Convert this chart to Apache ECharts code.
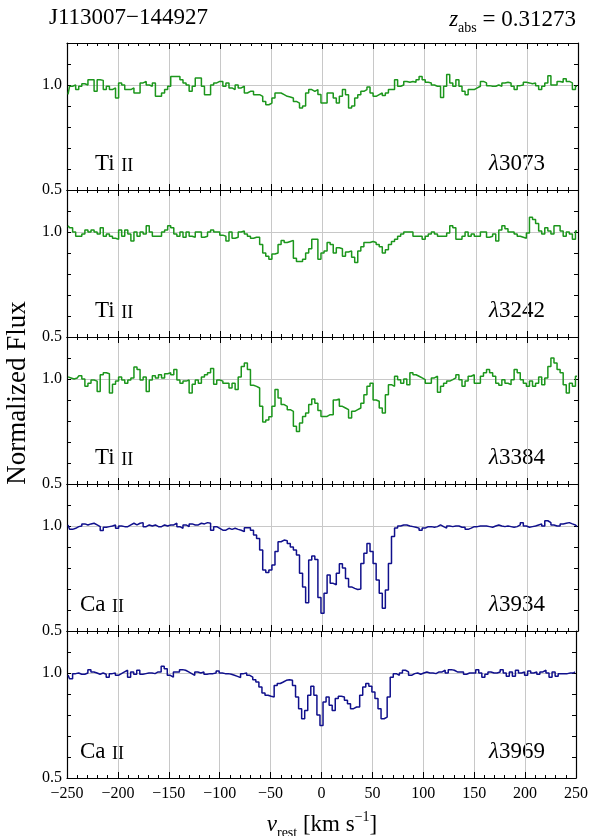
<!DOCTYPE html>
<html><head><meta charset="utf-8">
<script src="https://cdn.jsdelivr.net/npm/echarts@6/dist/echarts.min.js"></script>
<style>html,body{margin:0;padding:0;background:#fff}#c{width:591px;height:836px}</style>
</head><body><div id="c"></div>
<script>
// velocity pixel grid (km/s), bin centres
const VEL_START = -249, VEL_STEP = 3, NPIX = 167;
const velocity = Array.from({length: NPIX}, (_, i) => VEL_START + VEL_STEP * i);

const fluxTi3073 = [
0.955,0.994,1.0,0.978,0.994,1.006,1.0,1.025,1.025,0.97,
1.025,1.022,0.978,0.994,0.978,0.986,0.938,1.01,1.0,0.978,
0.978,0.986,0.962,0.962,1.01,1.017,1.0,0.994,1.01,0.946,
0.946,0.962,0.978,0.994,1.04,1.04,1.04,1.025,1.01,1.0,
0.97,0.994,1.033,1.033,0.994,0.954,0.954,1.0,1.01,1.017,
1.017,0.994,1.01,0.986,0.978,1.0,0.986,0.994,0.962,0.97,
0.97,0.954,0.954,0.946,0.922,0.906,0.914,0.938,0.962,0.962,
0.954,0.946,0.943,0.938,0.922,0.914,0.89,0.90,0.962,0.978,
0.97,0.978,0.955,0.914,0.914,0.962,0.962,0.938,0.914,0.946,
0.978,0.954,0.89,0.90,0.938,0.954,0.97,0.978,0.99,0.962,
0.946,0.954,0.962,0.95,0.962,0.978,0.978,1.025,0.994,1.0,
1.017,1.013,1.017,1.013,1.025,1.04,1.025,1.013,1.01,1.0,
0.994,0.994,0.94,0.994,1.05,1.01,0.994,1.025,0.994,0.97,
0.954,0.978,0.978,0.986,0.994,1.017,1.01,0.997,0.994,0.994,
1.0,0.994,1.01,1.013,1.01,0.994,0.978,0.997,1.0,1.013,
1.01,1.006,1.01,0.997,0.978,0.994,1.01,1.044,1.0,1.0,
1.017,1.013,1.03,1.017,1.01,0.978,0.994];

const fluxTi3242 = [
1.03,1.02,1.00,0.98,0.98,0.99,1.01,1.00,1.01,1.00,
0.99,1.02,0.98,0.99,0.98,0.97,0.965,1.01,0.98,1.01,
0.99,0.957,1.00,0.98,1.00,0.99,1.03,1.00,0.98,0.98,
0.98,1.00,1.01,1.03,1.02,0.99,0.98,1.00,0.975,1.00,
0.98,0.975,1.00,1.00,0.975,0.98,1.00,1.01,1.00,1.00,
0.985,0.98,0.957,1.00,0.97,0.975,1.00,1.005,0.99,0.98,
0.97,0.975,0.975,0.94,0.90,0.885,0.87,0.895,0.90,0.94,
0.96,0.95,0.955,0.96,0.875,0.86,0.86,0.87,0.90,0.92,
0.965,0.965,0.87,0.90,0.91,0.95,0.94,0.90,0.925,0.92,
0.885,0.905,0.91,0.88,0.855,0.91,0.93,0.95,0.95,0.955,
0.95,0.94,0.93,0.90,0.915,0.94,0.955,0.965,0.98,0.99,
1.00,1.00,1.00,0.98,0.98,0.98,0.965,0.98,0.99,1.00,
0.99,0.98,0.98,0.98,0.995,1.03,1.02,0.965,0.965,0.98,
1.00,0.98,0.99,0.98,0.98,1.00,1.00,0.975,0.98,0.99,
0.957,1.01,1.03,1.015,1.00,1.00,0.99,0.98,0.975,0.97,
0.995,1.07,1.06,1.04,1.005,0.99,1.02,1.005,0.99,1.03,
1.03,1.005,0.98,1.00,0.99,0.965,1.005];

const fluxTi3384 = [
1.01,1.005,1.00,1.005,1.015,1.00,0.965,0.98,0.995,0.99,
0.94,1.02,1.03,1.025,0.933,0.975,0.99,1.01,0.995,0.98,
0.995,1.005,1.057,1.045,0.995,1.01,0.94,0.995,1.015,1.005,
1.02,1.005,1.025,1.03,1.02,1.045,0.995,0.98,0.99,0.995,
0.933,0.975,0.995,0.98,1.01,1.02,1.03,1.05,0.975,0.995,
0.99,0.98,0.98,0.957,0.98,0.95,1.01,1.06,1.076,1.045,
0.97,0.965,0.957,0.87,0.795,0.805,0.82,0.87,0.95,0.91,
0.878,0.87,0.854,0.846,0.775,0.75,0.79,0.822,0.838,0.878,
0.905,0.885,0.85,0.822,0.822,0.83,0.83,0.90,0.905,0.87,
0.862,0.854,0.814,0.846,0.854,0.862,0.885,0.925,0.965,0.98,
0.90,0.894,0.862,0.838,0.925,0.973,0.965,1.013,0.997,0.98,
1.00,0.973,1.03,1.02,1.013,1.005,0.997,0.98,0.98,1.005,
1.013,0.937,0.965,0.98,0.99,0.997,1.005,1.02,0.997,0.965,
0.99,1.013,1.02,0.98,0.98,1.013,1.03,1.045,1.03,1.013,
0.98,0.97,0.997,0.98,0.973,0.997,1.045,1.03,0.997,0.98,
0.965,0.99,0.965,0.98,1.01,0.973,1.005,1.06,1.10,1.076,
1.045,1.03,0.973,0.933,0.98,0.965,1.013];

const fluxCa3934 = [
1.005,0.984,0.989,0.997,1.0,1.01,1.005,1.01,1.013,1.005,
0.997,0.978,0.994,0.997,1.0,1.005,0.989,1.0,0.997,0.997,
1.005,1.013,1.005,1.013,1.016,0.997,1.005,1.0,1.005,0.997,
0.997,1.005,1.0,1.005,1.005,1.013,0.997,0.989,1.005,0.997,
1.01,1.005,1.005,1.013,1.01,1.016,1.013,0.98,0.997,0.989,
0.98,0.98,0.989,0.984,0.989,0.984,0.98,0.973,0.992,0.992,
0.98,0.957,0.94,0.886,0.79,0.778,0.79,0.814,0.878,0.925,
0.933,0.93,0.917,0.90,0.886,0.862,0.775,0.71,0.635,0.838,
0.857,0.84,0.66,0.584,0.68,0.767,0.727,0.72,0.775,0.82,
0.80,0.75,0.71,0.703,0.698,0.70,0.822,0.87,0.917,0.878,
0.822,0.743,0.68,0.608,0.695,0.822,0.95,0.99,1.0,1.005,
1.005,1.0,0.997,0.994,0.99,0.98,0.99,0.997,0.997,0.994,
0.997,1.005,0.997,0.99,1.0,0.997,1.0,1.0,0.994,0.994,
0.984,0.99,0.997,0.997,1.0,1.0,1.0,0.997,0.994,1.0,
1.005,1.0,0.997,1.0,0.997,0.994,0.997,1.005,1.016,1.0,
0.994,0.997,1.0,1.005,1.01,1.0,1.025,1.016,1.005,1.0,
1.0,1.01,1.013,1.016,1.01,1.005,0.997];

const fluxCa3969 = [
0.99,0.973,0.997,1.0,0.994,0.994,1.0,1.016,1.005,1.0,
0.994,1.0,0.994,0.98,0.997,1.0,0.989,0.997,1.005,1.013,
0.98,1.005,0.994,1.013,0.994,0.997,1.0,1.0,0.997,1.005,
1.005,1.032,1.02,0.989,0.98,1.005,1.005,1.016,1.013,1.005,
0.997,0.989,1.005,1.0,1.005,0.994,0.997,0.997,1.0,1.01,
1.0,0.997,0.997,0.994,0.989,0.984,0.978,0.997,1.0,0.989,
0.98,0.968,0.957,0.933,0.905,0.894,0.889,0.886,0.94,0.95,
0.957,0.965,0.968,0.965,0.94,0.886,0.83,0.782,0.822,0.894,
0.937,0.894,0.80,0.75,0.862,0.886,0.846,0.822,0.878,0.889,
0.886,0.87,0.854,0.83,0.838,0.838,0.894,0.933,0.95,0.937,
0.91,0.878,0.83,0.782,0.79,0.886,0.98,0.997,0.989,1.0,
1.013,1.005,0.989,0.997,1.0,0.994,1.0,1.005,1.0,1.0,
0.997,1.005,1.005,1.013,1.0,1.016,1.013,1.005,1.005,1.005,
0.994,1.0,1.0,1.0,1.016,1.0,0.98,0.994,1.005,1.0,
1.0,1.005,1.016,1.0,0.984,1.005,0.984,1.013,1.0,1.005,
0.989,1.01,1.0,1.005,0.994,1.005,1.013,1.0,0.98,1.005,
0.984,0.997,0.997,0.997,1.0,1.0,1.005];

const panelFlux = [fluxTi3073, fluxTi3242, fluxTi3384, fluxCa3934, fluxCa3969];
const panelElement = ['Ti', 'Ti', 'Ti', 'Ca', 'Ca'];
const panelStage = ['II', 'II', 'II', 'II', 'II'];
const panelWave = ['3073', '3242', '3384', '3934', '3969'];
const panelColor = ['#1c961c', '#1c961c', '#1c961c', '#10108c', '#10108c'];
const objectName = 'J113007\u2212144927';
const zAbs = '0.31273';
const yLabelValues = [0.5, 1.0];

const FONT = '"Liberation Serif", "DejaVu Serif", serif';
const L = 67, W = 511, T0 = 43, H = 147;
const ionLabelX = [95, 95, 95, 80, 80];

const grids = [], xAxes = [], yAxes = [], series = [], graphics = [];
for (let i = 0; i < 5; i++) {
  grids.push({left: L, width: W, top: T0 + H * i, height: H});
  const last = i === 4;
  const xBase = {
    type: 'value', gridIndex: i, min: -250, max: 250, interval: 50,
    axisLine: {show: true, onZero: false, lineStyle: {color: '#000', width: 1.2}},
    axisTick: {show: true, inside: true, length: 6, lineStyle: {color: '#000', width: 1}},
    minorTick: {show: true, splitNumber: 5, length: 3, lineStyle: {color: '#000', width: 1}}
  };
  xAxes.push(Object.assign({}, xBase, {
    position: 'bottom',
    splitLine: {show: true, lineStyle: {color: '#c8c8c8', width: 1}},
    axisLabel: {show: last, margin: 8, color: '#000', fontFamily: FONT, fontSize: 16,
      formatter: v => String(v).replace('-', '\u2212')}
  }));
  xAxes.push(Object.assign({}, xBase, {
    position: 'top', splitLine: {show: false}, axisLabel: {show: false}
  }));
  const yBase = {
    type: 'value', gridIndex: i, min: 0.5, max: 1.2, interval: 0.1,
    axisLine: {show: true, onZero: false, lineStyle: {color: '#000', width: 1.2}},
    axisTick: {show: true, inside: true, length: 4, lineStyle: {color: '#000', width: 1}},
    splitLine: {show: false}
  };
  yAxes.push(Object.assign({}, yBase, {
    position: 'left',
    axisLabel: {show: true, margin: 5, color: '#000', fontFamily: FONT, fontSize: 16,
      showMaxLabel: false,
      formatter: v => {
        for (const t of yLabelValues) if (Math.abs(v - t) < 1e-6) return t.toFixed(1);
        return '';
      }}
  }));
  yAxes.push(Object.assign({}, yBase, {position: 'right', axisLabel: {show: false}}));
  yAxes.push({
    type: 'value', gridIndex: i, min: 0.5, max: 1.2, interval: 0.5, position: 'left',
    axisLine: {show: false}, axisTick: {show: false}, axisLabel: {show: false},
    splitLine: {show: true, lineStyle: {color: '#c8c8c8', width: 1}}
  });
  series.push({
    type: 'line', xAxisIndex: 2 * i, yAxisIndex: 3 * i,
    data: velocity.map((v, k) => [v, panelFlux[i][k]]),
    step: 'middle', showSymbol: false, symbol: 'none', clip: true,
    lineStyle: {color: panelColor[i], width: 1.5}, animation: false
  });
  const ly = T0 + H * i + 121;
  graphics.push({
    type: 'text', x: ionLabelX[i], y: ly,
    style: {
      text: '{e|' + panelElement[i] + '}{s| ' + panelStage[i] + '}',
      verticalAlign: 'middle', textVerticalAlign: 'middle', fill: '#000',
      rich: {
        e: {fontFamily: FONT, fontSize: 23, fill: '#000', lineHeight: 26},
        s: {fontFamily: FONT, fontSize: 18, fill: '#000', verticalAlign: 'bottom', lineHeight: 26, padding: [0, 0, 2, 2]}
      }
    }
  });
  graphics.push({
    type: 'text', x: 545, y: ly,
    style: {
      text: '{l|\u03bb}{n|' + panelWave[i] + '}',
      align: 'right', textAlign: 'right', verticalAlign: 'middle', textVerticalAlign: 'middle', fill: '#000',
      rich: {
        l: {fontFamily: FONT, fontSize: 23, fontStyle: 'italic', fill: '#000'},
        n: {fontFamily: FONT, fontSize: 23, fill: '#000'}
      }
    }
  });
}

graphics.push({
  type: 'text', x: 49, y: 18,
  style: {text: objectName, font: '23px ' + FONT, fill: '#000', verticalAlign: 'middle', textVerticalAlign: 'middle'}
});
graphics.push({
  type: 'text', x: 576, y: 20,
  style: {
    text: '{z|z}{s|abs}{n| = ' + zAbs + '}',
    align: 'right', textAlign: 'right', verticalAlign: 'middle', textVerticalAlign: 'middle', fill: '#000',
    rich: {
      z: {fontFamily: FONT, fontSize: 23, fontStyle: 'italic', fill: '#000', lineHeight: 30},
      s: {fontFamily: FONT, fontSize: 14, fill: '#000', verticalAlign: 'bottom', lineHeight: 30},
      n: {fontFamily: FONT, fontSize: 23, fill: '#000', lineHeight: 30}
    }
  }
});
graphics.push({
  type: 'text', x: 18, y: 393, rotation: Math.PI / 2,
  style: {text: 'Normalized Flux', font: '27px ' + FONT, fill: '#000', align: 'center', textAlign: 'center', verticalAlign: 'middle', textVerticalAlign: 'middle'}
});
graphics.push({
  type: 'text', x: 322, y: 825,
  style: {
    text: '{v|v}{r|rest}{n| [km s}{p|\u22121}{n|]}',
    align: 'center', textAlign: 'center', verticalAlign: 'middle', textVerticalAlign: 'middle', fill: '#000',
    rich: {
      v: {fontFamily: FONT, fontSize: 23, fontStyle: 'italic', fill: '#000', lineHeight: 30},
      r: {fontFamily: FONT, fontSize: 14, fill: '#000', verticalAlign: 'bottom', lineHeight: 30},
      n: {fontFamily: FONT, fontSize: 23, fill: '#000', lineHeight: 30},
      p: {fontFamily: FONT, fontSize: 14, fill: '#000', verticalAlign: 'top', lineHeight: 30}
    }
  }
});

const chart = echarts.init(document.getElementById('c'), null, {renderer: 'canvas'});
chart.setOption({
  animation: false, backgroundColor: '#fff',
  grid: grids, xAxis: xAxes, yAxis: yAxes, series: series, graphic: graphics
});
</script></body></html>
